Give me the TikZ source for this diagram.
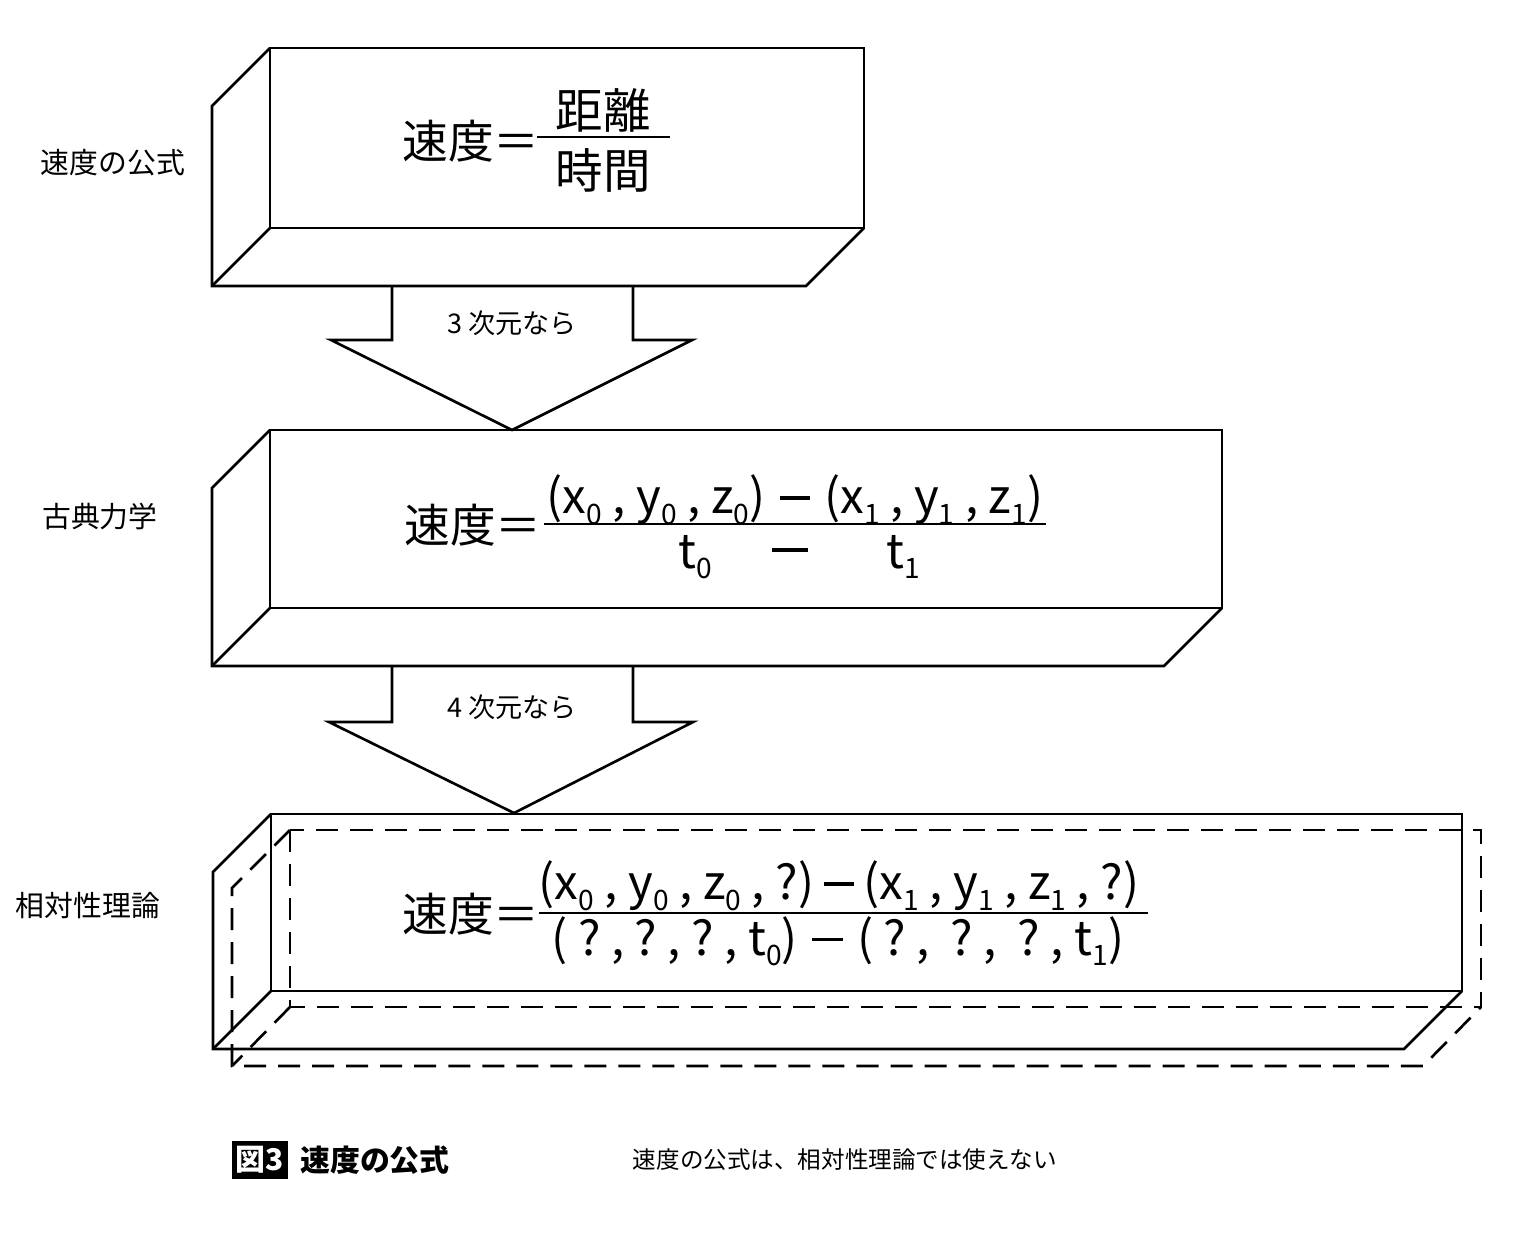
\documentclass[tikz,border=0pt]{standalone}
\usepackage{fontspec}
\setmainfont{Noto Sans CJK JP}
\usetikzlibrary{positioning}

\newcommand{\lo}[1]{\raisebox{-0.4ex}{\fontsize{8}{8}\selectfont #1}}
\newcommand{\mn}{\hspace{0.3em}\rule[0.3em]{0.65em}{0.07em}\hspace{0.3em}}
\newcommand{\gp}{\hspace{0.22em}}

\begin{document}
\begin{tikzpicture}[x=0.01cm, y=-0.01cm, line width=0.75pt,
  side/.style={font=\fontsize{8.2}{10}\selectfont},
  arrowlbl/.style={font=\fontsize{7.7}{9}\selectfont},
  eqbig/.style={font=\fontsize{13}{16}\selectfont, inner sep=0pt},
  eqsmall/.style={font=\fontsize{13.5}{15}\selectfont, inner sep=0pt},
  hidden/.style={dash pattern=on 0.22cm off 0.12cm}]

  \useasboundingbox (0,0) rectangle (1519,1241);

  % box 1
  \draw (270,48) rectangle (864,228);
  \draw (270,48) -- (212,106) -- (212,286) -- (806,286) -- (864,228);
  \draw (270,228) -- (212,286);

  % box 2
  \draw (270,430) rectangle (1222,608);
  \draw (270,430) -- (212,488) -- (212,666) -- (1164,666) -- (1222,608);
  \draw (270,608) -- (212,666);

  % box 3 and its dashed shadow
  \draw[hidden] (290,830) rectangle (1481,1007);
  \draw[hidden] (290,830) -- (232,888) -- (232,1066) -- (1423,1066) -- (1481,1007);
  \draw[hidden] (290,1007) -- (232,1066);
  \draw (271,814) rectangle (1462,991);
  \draw (271,814) -- (213,872) -- (213,1049) -- (1404,1049) -- (1462,991);
  \draw (271,991) -- (213,1049);

  % block arrows
  \draw (392,286) -- (392,340) -- (331,340) -- (512,430) -- (692,340) -- (633,340) -- (633,286);
  \draw (392,666) -- (392,722) -- (329,722) -- (514,813) -- (693,722) -- (633,722) -- (633,666);
  \node[arrowlbl] (dim3) at (512,323) {3 次元なら};
  \node[arrowlbl] (dim4) at (512,707) {4 次元なら};

  % labels on the left
  \node[side] (lblFormula) at (113,163) {速度の公式};
  \node[side] (lblClassic) at (100,517) {古典力学};
  \node[side] (lblRel) at (88,905) {相対性理論};

  % formula 1
  \node[eqbig, anchor=east] (eq1lhs) at (541,141) {速度＝};
  \node[eqsmall] (eq1num) at (603,110) {距離};
  \node[eqsmall] (eq1den) at (603,170) {時間};
  \draw[line width=0.5pt] (537,137) -- (670,137);

  % formula 2
  \node[eqbig, anchor=east] (eq2lhs) at (543,525) {速度＝};
  \node[eqsmall] (eq2num) at (795,500) {(x\lo0\gp, y\lo0\gp, z\lo0)\mn(x\lo1\gp, y\lo1\gp, z\lo1)};
  \node[eqsmall] (eq2t0) at (695,557) {t\lo0};
  \node[eqsmall] (eq2mn) at (790,557) {\rule[0.3em]{0.75em}{0.07em}};
  \node[eqsmall] (eq2t1) at (903,557) {t\lo1};
  \draw (544,524) -- (1046,524);

  % formula 3
  \node[eqbig, anchor=east] (eq3lhs) at (541,914) {速度＝};
  \node[eqsmall] (eq3num) at (839,886) {(x\lo0\gp, y\lo0\gp, z\lo0\gp, ?)\hspace{0.2em}\rule[0.3em]{0.65em}{0.07em}\hspace{0.2em}(x\lo1\gp, y\lo1\gp, z\lo1\gp, ?)};
  \node[eqsmall] (eq3den) at (838,941) {(\gp?\gp,\gp?\gp,\gp?\gp, t\lo0)\mn(\gp?\gp, \gp?\gp, \gp?\gp, t\lo1)};
  \draw (539,913) -- (1148,913);

  % caption
  \node[fill=black, text=white, font=\fontsize{8.5}{10}\selectfont\bfseries, inner xsep=1pt, inner ysep=1.5pt] (figno) at (260,1160) {図3};
  \node[font=\fontsize{8.5}{10}\selectfont\bfseries] (figtitle) at (375,1160) {速度の公式};
  \node[font=\fontsize{6.7}{8}\selectfont] (fignote) at (845,1160) {速度の公式は、相対性理論では使えない};

\end{tikzpicture}
\end{document}
